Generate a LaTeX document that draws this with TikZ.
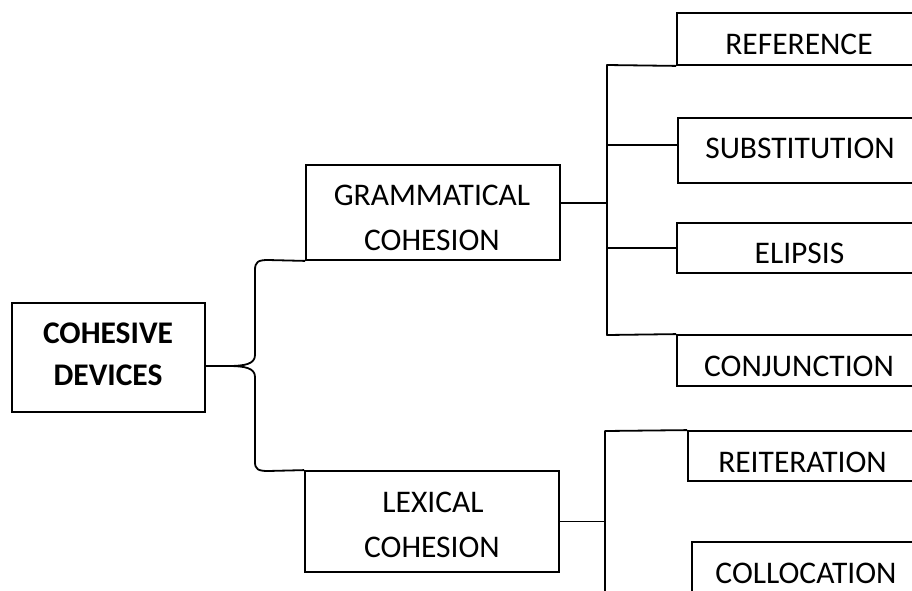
\documentclass[tikz,border=0pt]{standalone}
\usepackage{fontspec}
\setmainfont{Carlito}
\begin{document}
\begin{tikzpicture}[x=1pt,y=-1pt,
  box/.style={draw, line width=1.8pt, rectangle, inner sep=0pt},
  lbl/.style={anchor=base, inner sep=0pt, font=\fontsize{31.5}{45}\selectfont},
  blbl/.style={lbl, font=\fontsize{31.5}{45}\selectfont\bfseries},
  conn/.style={line width=1.8pt, line join=round}]
\useasboundingbox (0,0) rectangle (912,590);
\clip (0,0) rectangle (912,590);
% boxes
\node[box, minimum width=193pt, minimum height=109pt] (cd) at (108.5,357.5) {};
\node[box, minimum width=254pt, minimum height=95pt] (gc) at (433,212.5) {};
\node[box, minimum width=254pt, minimum height=101pt] (lc) at (432,521.5) {};
\node[box, minimum width=244pt, minimum height=52pt] (ref) at (799,39) {};
\node[box, minimum width=243pt, minimum height=65pt] (sub) at (799.5,150.5) {};
\node[box, minimum width=244pt, minimum height=50pt] (eli) at (799,248) {};
\node[box, minimum width=244pt, minimum height=51pt] (conj) at (799,360.5) {};
\node[box, minimum width=229pt, minimum height=50pt] (reit) at (802.5,456) {};
\node[box, minimum width=228pt, minimum height=78pt] (coll) at (806,581) {};
% texts
\node[blbl] (cdt1) at (108,343) {COHESIVE};
\node[blbl] (cdt2) at (108,385) {DEVICES};
\node[lbl] (gct1) at (432,205) {GRAMMATICAL};
\node[lbl] (gct2) at (432,250) {COHESION};
\node[lbl] (lct1) at (433,512) {LEXICAL};
\node[lbl] (lct2) at (432,557) {COHESION};
\node[lbl] (reft) at (799,54) {REFERENCE};
\node[lbl] (subt) at (800,158) {SUBSTITUTION};
\node[lbl] (elit) at (799.5,263) {ELIPSIS};
\node[lbl] (conjt) at (799,376) {CONJUNCTION};
\node[lbl] (reitt) at (802.5,472) {REITERATION};
\node[lbl] (collt) at (806,583) {COLLOCATION};
% grammatical branch
\coordinate (gt) at (607,65);
\coordinate (gb) at (607,335);
\draw[conn] (ref.south west) -- (gt) -- (gb) -- (conj.north west);
\coordinate (gcout) at ([yshift=9.5pt]gc.east);
\draw[conn] (gcout) -- (gcout -| gt);
\coordinate (subin) at ([yshift=5.5pt]sub.west);
\draw[conn] (subin) -- (subin -| gt);
\draw[conn] (eli.west) -- (eli.west -| gt);
% lexical branch
\coordinate (lt) at (605,431);
\coordinate (lb) at (605,600);
\draw[conn] (reit.north west) -- (lt) -- (lb);
\draw[conn] (lc.east) -- (lc.east -| lt);
% brace
\coordinate (tip) at ([yshift=-8.5pt]cd.east);
\draw[conn] (gc.south west) -- (268,260) .. controls (258,260) and (255,262) .. (255,270)
  -- (255,355) .. controls (255,364) and (245,366) .. (228,366) -- (tip);
\draw[conn] (tip) -- (228,366) .. controls (245,366) and (255,368) .. (255,377)
  -- (255,462) .. controls (255,469) and (258,471) .. (268,471) -- (lc.north west);
\end{tikzpicture}
\end{document}
